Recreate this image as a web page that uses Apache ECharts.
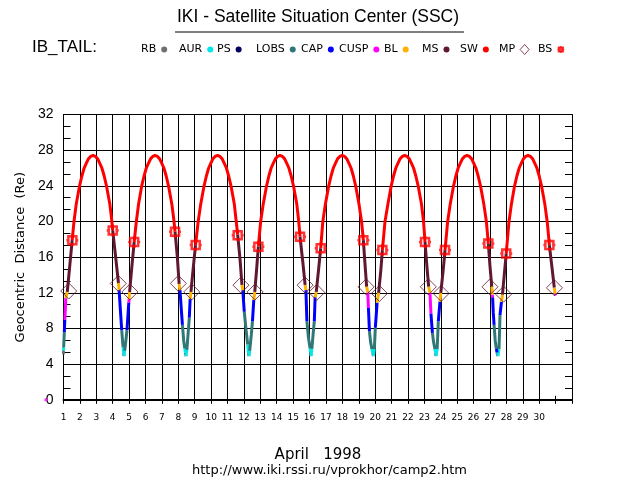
<!DOCTYPE html>
<html>
<head>
<meta charset="utf-8">
<title>IKI - Satellite Situation Center (SSC)</title>
<script src="https://cdn.jsdelivr.net/npm/echarts@6/dist/echarts.min.js"></script>
<style>
html, body { margin: 0; padding: 0; background: #fff; }
#main { width: 636px; height: 500px; }
</style>
</head>
<body>
<div id="main"></div>
<script>
// regions crossed by Interball-Tail, in legend order
var zoneNames = ['RB', 'AUR', 'PS', 'LOBS', 'CAP', 'CUSP', 'BL', 'MS', 'SW'];
var zoneColors = ['#707070', '#00e8e8', '#000060', '#307878', '#0000ff', '#ff00ff', '#ffb000', '#601830', '#ff0000'];
var dayLabels = [1, 2, 3, 4, 5, 6, 7, 8, 9, 10, 11, 12, 13, 14, 15, 16, 17, 18, 19, 20, 21, 22, 23, 24, 25, 26, 27, 28, 29, 30];

// orbit legs: [day of April, distance Re, region of the piece ending at this point]
var leg0 = [[0.99, 5.1, 'RB'], [1.00, 5.5, 'RB'], [1.01, 5.9, 'AUR'], [1.05, 7.6, 'LOBS'], [1.08, 9.0, 'CAP'], [1.14, 11.4, 'CUSP'], [1.23, 12.1, 'BL'],
	[1.38, 15.0, 'MS'], [1.53, 17.9, 'MS'],
	[1.64, 20.0, 'SW'], [1.78, 22.0, 'SW'], [1.98, 24.0, 'SW'], [2.12, 25.1, 'SW'], [2.26, 26.0, 'SW'], [2.38, 26.5, 'SW'], [2.51, 27.0, 'SW'], [2.65, 27.3, 'SW'], [2.80, 27.4, 'SW']];
var legA = [[2.95, 27.3, 'SW'], [3.09, 27.0, 'SW'], [3.22, 26.5, 'SW'], [3.34, 26.0, 'SW'], [3.48, 25.1, 'SW'], [3.62, 24.0, 'SW'], [3.82, 22.0, 'SW'], [3.92, 20.5, 'SW'], [4.00, 19.0, 'SW'],
	[4.18, 16.0, 'MS'], [4.35, 13.1, 'MS'], [4.39, 12.3, 'BL'], [4.47, 10.0, 'CAP'], [4.55, 7.8, 'CAP'], [4.63, 5.9, 'LOBS'], [4.66, 5.3, 'AUR'], [4.69, 4.9, 'RB'],
	[4.73, 5.5, 'AUR'], [4.80, 6.6, 'LOBS'], [4.87, 7.8, 'LOBS'], [4.98, 10.9, 'CAP'], [5.00, 11.3, 'CUSP'], [5.03, 12.1, 'BL'], [5.17, 15.0, 'MS'], [5.31, 17.7, 'MS'],
	[5.44, 20.0, 'SW'], [5.58, 22.0, 'SW'], [5.77, 24.0, 'SW'], [5.91, 25.1, 'SW'], [6.05, 26.0, 'SW'], [6.17, 26.5, 'SW'], [6.30, 27.0, 'SW'], [6.44, 27.3, 'SW'], [6.58, 27.4, 'SW']];
var legB = [[6.73, 27.3, 'SW'], [6.87, 27.0, 'SW'], [7.00, 26.5, 'SW'], [7.12, 26.0, 'SW'], [7.26, 25.1, 'SW'], [7.40, 24.0, 'SW'], [7.60, 22.0, 'SW'], [7.72, 20.3, 'SW'], [7.80, 18.85, 'SW'],
	[7.94, 16.0, 'MS'], [8.05, 13.0, 'MS'], [8.10, 12.3, 'BL'], [8.18, 10.2, 'CAP'], [8.25, 8.4, 'CAP'], [8.33, 6.6, 'LOBS'], [8.39, 5.8, 'LOBS'], [8.43, 5.3, 'AUR'], [8.47, 4.9, 'RB'],
	[8.52, 5.6, 'AUR'], [8.60, 7.5, 'LOBS'], [8.67, 9.2, 'LOBS'], [8.72, 11.3, 'CAP'], [8.77, 12.1, 'BL'], [8.92, 15.0, 'MS'], [9.05, 17.35, 'MS'],
	[9.21, 20.0, 'SW'], [9.37, 22.0, 'SW'], [9.57, 24.0, 'SW'], [9.71, 25.1, 'SW'], [9.85, 26.0, 'SW'], [9.97, 26.5, 'SW'], [10.10, 27.0, 'SW'], [10.24, 27.3, 'SW'], [10.39, 27.4, 'SW']];
var legC = [[10.54, 27.3, 'SW'], [10.68, 27.0, 'SW'], [10.81, 26.5, 'SW'], [10.93, 26.0, 'SW'], [11.07, 25.1, 'SW'], [11.21, 24.0, 'SW'], [11.41, 22.0, 'SW'], [11.53, 20.0, 'SW'], [11.62, 18.5, 'SW'],
	[11.76, 15.8, 'MS'], [11.88, 12.9, 'MS'], [11.93, 12.3, 'BL'], [12.02, 9.9, 'CAP'], [12.12, 8.0, 'LOBS'], [12.23, 6.2, 'LOBS'], [12.27, 5.3, 'AUR'], [12.31, 4.9, 'RB'],
	[12.35, 5.5, 'AUR'], [12.45, 7.3, 'LOBS'], [12.52, 8.8, 'LOBS'], [12.60, 11.2, 'CAP'], [12.66, 12.1, 'BL'], [12.78, 14.8, 'MS'], [12.88, 17.2, 'MS'],
	[13.02, 20.0, 'SW'], [13.18, 22.0, 'SW'], [13.38, 24.0, 'SW'], [13.52, 25.1, 'SW'], [13.66, 26.0, 'SW'], [13.78, 26.5, 'SW'], [13.91, 27.0, 'SW'], [14.05, 27.3, 'SW'], [14.20, 27.4, 'SW']];
var legD = [[14.35, 27.3, 'SW'], [14.49, 27.0, 'SW'], [14.62, 26.5, 'SW'], [14.74, 26.0, 'SW'], [14.88, 25.1, 'SW'], [15.02, 24.0, 'SW'], [15.22, 22.0, 'SW'], [15.34, 20.0, 'SW'], [15.42, 18.3, 'SW'],
	[15.58, 15.6, 'MS'], [15.73, 12.9, 'MS'], [15.78, 12.3, 'BL'], [15.81, 10.5, 'CAP'], [15.84, 8.8, 'CAP'], [15.93, 7.0, 'LOBS'], [16.03, 5.8, 'LOBS'], [16.06, 5.3, 'AUR'], [16.09, 4.9, 'RB'],
	[16.14, 5.7, 'AUR'], [16.22, 7.4, 'LOBS'], [16.29, 8.8, 'LOBS'], [16.34, 11.5, 'CAP'], [16.41, 12.1, 'BL'], [16.55, 14.6, 'MS'], [16.68, 17.0, 'MS'],
	[16.81, 20.0, 'SW'], [16.97, 22.0, 'SW'], [17.17, 24.0, 'SW'], [17.31, 25.1, 'SW'], [17.45, 26.0, 'SW'], [17.57, 26.5, 'SW'], [17.70, 27.0, 'SW'], [17.84, 27.3, 'SW'], [17.99, 27.4, 'SW']];
var legE = [[18.14, 27.3, 'SW'], [18.28, 27.0, 'SW'], [18.41, 26.5, 'SW'], [18.53, 26.0, 'SW'], [18.67, 25.1, 'SW'], [18.81, 24.0, 'SW'], [19.01, 22.0, 'SW'], [19.17, 20.0, 'SW'], [19.28, 17.9, 'SW'],
	[19.37, 15.5, 'MS'], [19.48, 12.7, 'MS'], [19.55, 12.05, 'BL'], [19.59, 10.3, 'CUSP'], [19.65, 7.7, 'CAP'], [19.72, 6.5, 'LOBS'], [19.80, 5.7, 'LOBS'], [19.85, 5.3, 'AUR'], [19.89, 4.9, 'RB'],
	[19.95, 5.7, 'AUR'], [20.01, 8.1, 'LOBS'], [20.12, 10.9, 'CAP'], [20.21, 12.0, 'BL'], [20.34, 14.4, 'MS'], [20.44, 16.8, 'MS'],
	[20.60, 20.0, 'SW'], [20.78, 22.0, 'SW'], [20.98, 24.0, 'SW'], [21.12, 25.1, 'SW'], [21.26, 26.0, 'SW'], [21.38, 26.5, 'SW'], [21.51, 27.0, 'SW'], [21.65, 27.3, 'SW'], [21.80, 27.4, 'SW']];
var legF = [[21.95, 27.3, 'SW'], [22.09, 27.0, 'SW'], [22.22, 26.5, 'SW'], [22.34, 26.0, 'SW'], [22.48, 25.1, 'SW'], [22.62, 24.0, 'SW'], [22.82, 22.0, 'SW'], [22.95, 20.0, 'SW'], [23.04, 17.7, 'SW'],
	[23.14, 15.3, 'MS'], [23.26, 12.7, 'MS'], [23.34, 12.0, 'BL'], [23.40, 9.7, 'CUSP'], [23.49, 7.5, 'CAP'], [23.56, 6.5, 'LOBS'], [23.64, 5.7, 'LOBS'], [23.68, 5.3, 'AUR'], [23.71, 4.9, 'RB'],
	[23.78, 5.7, 'AUR'], [23.85, 8.8, 'LOBS'], [23.95, 11.0, 'CAP'], [24.00, 12.0, 'BL'], [24.14, 14.4, 'MS'], [24.26, 16.8, 'MS'],
	[24.42, 20.0, 'SW'], [24.58, 22.0, 'SW'], [24.78, 24.0, 'SW'], [24.92, 25.1, 'SW'], [25.06, 26.0, 'SW'], [25.18, 26.5, 'SW'], [25.31, 27.0, 'SW'], [25.45, 27.3, 'SW'], [25.60, 27.4, 'SW']];
var legG = [[25.75, 27.3, 'SW'], [25.89, 27.0, 'SW'], [26.02, 26.5, 'SW'], [26.14, 26.0, 'SW'], [26.28, 25.1, 'SW'], [26.42, 24.0, 'SW'], [26.62, 22.0, 'SW'], [26.78, 20.0, 'SW'], [26.90, 17.5, 'SW'],
	[27.00, 15.0, 'MS'], [27.11, 12.7, 'MS'], [27.14, 11.8, 'BL'], [27.16, 11.5, 'CUSP'], [27.20, 9.8, 'CAP'], [27.25, 8.4, 'CAP'], [27.32, 6.6, 'LOBS'], [27.39, 5.7, 'LOBS'], [27.43, 5.3, 'CAP'], [27.48, 4.9, 'RB'],
	[27.55, 5.7, 'AUR'], [27.58, 7.5, 'LOBS'], [27.61, 9.5, 'LOBS'], [27.70, 11.0, 'CAP'], [27.76, 11.8, 'BL'], [27.88, 14.2, 'MS'], [27.99, 16.4, 'MS'],
	[28.16, 20.0, 'SW'], [28.31, 22.0, 'SW'], [28.50, 24.0, 'SW'], [28.64, 25.1, 'SW'], [28.78, 26.0, 'SW'], [28.90, 26.5, 'SW'], [29.03, 27.0, 'SW'], [29.17, 27.3, 'SW'], [29.32, 27.4, 'SW']];
var legH = [[29.47, 27.3, 'SW'], [29.61, 27.0, 'SW'], [29.74, 26.5, 'SW'], [29.86, 26.0, 'SW'], [30.00, 25.1, 'SW'], [30.14, 24.0, 'SW'], [30.34, 22.0, 'SW'], [30.50, 19.8, 'SW'], [30.62, 17.35, 'SW'],
	[30.77, 15.0, 'MS'], [30.92, 12.6, 'MS'], [30.97, 11.9, 'BL'], [31.00, 11.7, 'CUSP']];

// magnetopause (MP) and bow shock (BS) crossings
var mpT = [1.32, 4.34, 5.05, 8.00, 8.82, 11.82, 12.68, 15.73, 16.44, 19.45, 20.26, 23.24, 24.02, 27.00, 27.83, 30.93];
var mpR = [12.2, 13.05, 12.1, 13.05, 12.1, 12.86, 12.1, 12.86, 12.05, 12.67, 11.93, 12.67, 11.93, 12.67, 11.85, 12.56];
var bsT = [1.54, 4.00, 5.31, 7.80, 9.06, 11.62, 12.88, 15.42, 16.68, 19.28, 20.44, 23.04, 24.26, 26.90, 27.99, 30.62];
var bsR = [17.9, 19.0, 17.7, 18.85, 17.35, 18.47, 17.16, 18.3, 17.0, 17.9, 16.8, 17.7, 16.8, 17.54, 16.4, 17.35];

// stray CUSP point plotted at the origin
var strayT = [-0.07];
var strayR = [0];

var track = leg0.concat(legA, legB, legC, legD, legE, legF, legG, legH);

// one polyline per region, broken where the satellite leaves it
var zoneData = function(zone) {
	var out = [];
	var last = -2;
	for (var i = 1; i < track.length; i++) {
		if (track[i][2] !== zone) continue;
		if (last !== i - 1) {
			if (out.length) out.push(['-', '-']);
			out.push([track[i - 1][0], track[i - 1][1]]);
		}
		out.push([track[i][0], track[i][1]]);
		last = i;
	}
	return out;
};

var pairs = function(xs, ys) {
	return xs.map(function(x, i) { return [x, ys[i]]; });
};

var BS_PATH = 'path://M2,2H10V10H2Z M6,0V2 M6,10V12 M0,6H2 M10,6H12';
var txtFont = 'DejaVu Sans';
var numFont = 'Liberation Sans';

var series = [];
zoneNames.forEach(function(z, k) {
	series.push({
		name: z,
		type: 'line',
		data: zoneData(z),
		symbol: 'none',
		color: zoneColors[k],
		lineStyle: { width: 3, color: zoneColors[k] },
		z: 3,
		silent: true
	});
});
series.push({
	name: 'CUSP',
	type: 'scatter',
	data: pairs(strayT, strayR),
	symbol: 'rect',
	symbolSize: 3,
	clip: false,
	itemStyle: { color: '#ff00ff' },
	z: 3,
	silent: true
});
series.push({
	name: 'MP',
	type: 'scatter',
	data: pairs(mpT, mpR),
	symbol: 'diamond',
	symbolSize: 16,
	itemStyle: { color: 'rgba(0,0,0,0)', borderColor: '#601830', borderWidth: 1 },
	z: 4,
	silent: true
});
series.push({
	name: 'BS',
	type: 'scatter',
	data: pairs(bsT, bsR),
	symbol: BS_PATH,
	symbolSize: 12,
	itemStyle: { color: 'rgba(0,0,0,0)', borderColor: '#ff0000', borderWidth: 2.5 },
	z: 5,
	silent: true
});

// legend: one small legend per item, text first then its mark
var legendNames = zoneNames.concat(['MP', 'BS']);
var legendLeft = [141, 179, 217, 256, 301, 339, 384, 422, 460, 499, 538];
var legends = legendNames.map(function(n, k) {
	var item = { name: n, icon: 'circle', itemStyle: { color: zoneColors[k] } };
	var w = 6, h = 6;
	if (n === 'MP') {
		item = { name: n, icon: 'diamond', itemStyle: { color: 'rgba(0,0,0,0)', borderColor: '#601830', borderWidth: 1 } };
		w = 9; h = 10;
	} else if (n === 'BS') {
		item = { name: n, icon: BS_PATH, itemStyle: { color: '#ff0000', borderColor: '#ff0000', borderWidth: 1.5 } };
		w = 7; h = 8;
	}
	return {
		data: [item],
		left: legendLeft[k],
		top: 44,
		padding: 0,
		align: 'right',
		itemWidth: w,
		itemHeight: h,
		selectedMode: false,
		textStyle: { fontFamily: txtFont, fontSize: 11, color: '#000' }
	};
});

// day 31 only gets a tick, no grid line
var xSplitColors = dayLabels.map(function() { return '#000'; }).concat(['rgba(0,0,0,0)', '#000']);

var myChart = echarts.init(document.getElementById('main'), null, { renderer: 'canvas' });
var option = {
	backgroundColor: '#fff',
	animation: false,
	title: [
		{ text: 'IKI - Satellite Situation Center (SSC)', left: 'center', top: 8, padding: 0,
			textStyle: { fontFamily: numFont, fontSize: 17.5, fontWeight: 'normal', color: '#000' } },
		{ text: 'IB_TAIL:', left: 32, top: 39, padding: 0,
			textStyle: { fontFamily: numFont, fontSize: 17, fontWeight: 'normal', color: '#000' } },
		{ text: 'April   1998', left: 'center', top: 448, padding: 0,
			textStyle: { fontFamily: txtFont, fontSize: 15, fontWeight: 'normal', color: '#000' } },
		{ text: 'http://www.iki.rssi.ru/vprokhor/camp2.htm', left: 192, top: 464, padding: 0,
			textStyle: { fontFamily: txtFont, fontSize: 13, fontWeight: 'normal', color: '#000' } }
	],
	graphic: [
		{ type: 'line', shape: { x1: 175, y1: 32, x2: 464, y2: 32 }, style: { stroke: '#000', lineWidth: 1 }, silent: true }
	],
	legend: legends,
	grid: { left: 63.5, top: 114.5, width: 508.5, height: 285.3 },
	xAxis: [
		{
			type: 'value', position: 'bottom', min: 1, max: 32, interval: 1,
			axisLine: { lineStyle: { color: '#000', width: 1 } },
			axisTick: { inside: true, length: 4, lineStyle: { color: '#000' } },
			axisLabel: {
				margin: 13, fontFamily: txtFont, fontSize: 9, color: '#000',
				formatter: function(v) { return dayLabels.indexOf(v) >= 0 ? String(v) : ''; }
			},
			splitLine: { show: true, lineStyle: { color: xSplitColors, width: 1 } }
		},
		{
			type: 'value', position: 'top', min: 1, max: 32, interval: 1,
			axisLine: { lineStyle: { color: '#000', width: 2 } },
			axisTick: { inside: true, length: 4, lineStyle: { color: '#000' } },
			axisLabel: { show: false },
			splitLine: { show: false }
		}
	],
	yAxis: [
		{
			type: 'value', position: 'left', min: 0, max: 32, interval: 4,
			name: 'Geocentric  Distance  (Re)', nameLocation: 'middle', nameGap: 35,
			nameTextStyle: { fontFamily: txtFont, fontSize: 13, color: '#000' },
			axisLine: { lineStyle: { color: '#000', width: 1 } },
			axisTick: { inside: true, length: 7, lineStyle: { color: '#000' } },
			minorTick: { show: true, splitNumber: 3, length: 7, lineStyle: { color: '#000' } },
			axisLabel: { margin: 10, fontFamily: numFont, fontSize: 14, color: '#000' },
			splitLine: { show: true, lineStyle: { color: '#000', width: 1 } }
		},
		{
			type: 'value', position: 'right', min: 0, max: 32, interval: 4,
			axisLine: { lineStyle: { color: '#000', width: 1 } },
			axisTick: { inside: true, length: 7, lineStyle: { color: '#000' } },
			minorTick: { show: true, splitNumber: 3, length: 7, lineStyle: { color: '#000' } },
			axisLabel: { show: false },
			splitLine: { show: false }
		}
	],
	series: series
};
myChart.setOption(option);
</script>
</body>
</html>
